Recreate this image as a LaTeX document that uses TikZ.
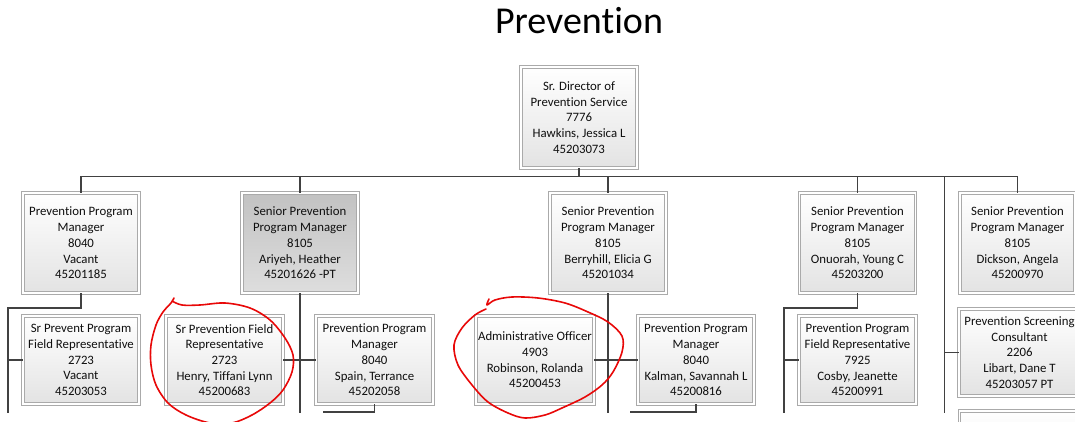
\documentclass[tikz,border=0pt]{standalone}
\usepackage{fontspec}
\setmainfont{Carlito}[Ligatures=CommonOff]
\usepackage{tikz}
\usetikzlibrary{shadows,positioning}
\definecolor{boxline}{RGB}{170,170,170}
\definecolor{wire}{RGB}{65,65,65}
\definecolor{ink}{RGB}{15,15,15}
\definecolor{pen}{RGB}{232,8,8}

\begin{document}
\begin{tikzpicture}[x=1pt,y=-1pt,
    post/.style={draw=boxline,line width=0.7pt,double=white,double distance=1.8pt,
      top color=white,bottom color=black!11,text=ink,align=center,
      inner sep=1pt,minimum width=116,
      font=\fontsize{12.8}{15.7}\selectfont,
      drop shadow={shadow xshift=1.8pt,shadow yshift=-1.8pt,opacity=0.3,fill=black!60}},
    head/.style={post,minimum height=100},
    staff/.style={post,minimum height=88},
    shaded/.style={top color=black!24,bottom color=black!13},
    conn/.style={wire,line width=1.6pt},
    ring/.style={pen,line width=1.6pt,line cap=round,line join=round}]
  \useasboundingbox (0,0) rectangle (1075,422);
  \clip (0,0) rectangle (1075,422);

  \node[font=\fontsize{38}{40}\selectfont,text=black] (title) at (579,21) {Prevention};

  % ---------------- director ----------------
  \node[post,minimum height=101] (hawkins) at (579,117.5)
      {Sr. Director of\\Prevention Service\\7776\\Hawkins, Jessica L\\45203073};

  % ---------------- managers ----------------
  \node[head] (vacantppm) at (81,243)
      {Prevention Program\\Manager\\8040\\Vacant\\45201185};
  \node[head,shaded] (ariyeh) at (300,243)
      {Senior Prevention\\Program Manager\\8105\\Ariyeh, Heather\\45201626 -PT};
  \node[head] (berryhill) at (608,243)
      {Senior Prevention\\Program Manager\\8105\\Berryhill, Elicia G\\45201034};
  \node[head] (onuorah) at (857.5,243)
      {Senior Prevention\\Program Manager\\8105\\Onuorah, Young C\\45203200};
  \node[head,minimum width=115] (dickson) at (1017.5,243)
      {Senior Prevention\\Program Manager\\8105\\Dickson, Angela\\45200970};

  % ---------------- staff ----------------
  \node[staff] (vacantfr) at (81,360)
      {Sr Prevent Program\\Field Representative\\2723\\Vacant\\45203053};
  \node[staff,minimum width=117] (henry) at (224.5,360)
      {Sr Prevention Field\\Representative\\2723\\Henry, Tiffani Lynn\\45200683};
  \node[staff,minimum width=117] (spain) at (374.5,360)
      {Prevention Program\\Manager\\8040\\Spain, Terrance\\45202058};
  \node[staff,minimum width=118] (robinson) at (535,360)
      {Administrative Officer\\4903\\Robinson, Rolanda\\45200453};
  \node[staff] (kalman) at (696,360)
      {Prevention Program\\Manager\\8040\\Kalman, Savannah L\\45200816};
  \node[staff,minimum width=117] (cosby) at (857.5,360)
      {Prevention Program\\Field Representative\\7925\\Cosby, Jeanette\\45200991};
  \node[staff,minimum width=121,minimum height=87] (libart) at (1019.5,352.5)
      {Prevention Screening\\Consultant\\2206\\Libart, Dane T\\45203057 PT};
  \node[staff,minimum width=121] (nextE) at (1020,455) {};

  % ---------------- wiring ----------------
  \coordinate (bus) at (0,176.5);
  \coordinate (bottom) at (0,413);
  \coordinate (sidebar) at (944.5,0);
  \coordinate (railA) at (8,308);
  \coordinate (railD) at (784,308);
  \coordinate (spainstub) at (323,412);
  \coordinate (kalmanstub) at (630,412);
  \draw[conn] (hawkins.south) -- (hawkins.south |- bus);
  \draw[conn] (vacantppm.north) -- (vacantppm.north |- bus)
      -- (dickson.north |- bus) -- (dickson.north);
  \foreach \boss in {ariyeh,berryhill,onuorah}
    \draw[conn] (\boss.north |- bus) -- (\boss.north);
  \draw[conn] (sidebar |- bus) -- (sidebar |- bottom);
  % column A
  \draw[conn] (vacantppm.south) |- (railA) -- (railA |- bottom);
  \draw[conn] (railA |- vacantfr) -- (vacantfr.west);
  % column B
  \draw[conn] (ariyeh.south) -- (ariyeh.south |- bottom);
  \draw[conn] (henry.east) -- (henry.east -| ariyeh.south);
  \draw[conn] (spain.west) -- (spain.west -| ariyeh.south);
  \draw[conn] (spain.south) |- (spainstub);
  % column C
  \draw[conn] (berryhill.south) -- (berryhill.south |- bottom);
  \draw[conn] (robinson.east) -- (robinson.east -| berryhill.south);
  \draw[conn] (kalman.west) -- (kalman.west -| berryhill.south);
  \draw[conn] (kalman.south) |- (kalmanstub);
  % column D
  \draw[conn] (onuorah.south) |- (railD) -- (railD |- bottom);
  \draw[conn] (railD |- cosby) -- (cosby.west);
  % column E
  \draw[conn] (sidebar |- libart) -- (libart.west);

  % ---------------- hand-drawn rings ----------------
  \draw[ring] plot[smooth,tension=0.55] coordinates {
      (174,298) (171,303) (163,312) (156,325) (151,345) (151,365) (156,385)
      (168,403) (186,415) (210,423) (232,423) (252,415) (270,403) (283,390)
      (292,372) (293,355) (285,338) (270,320) (250,308) (225,303) (200,305)
      (182,305) (172,301)};
  \draw[ring] plot[smooth,tension=0.55] coordinates {
      (489,299) (487,305) (495,300) (512,297) (538,298) (565,303) (588,312)
      (608,322) (622,336) (622,352) (613,372) (602,385) (585,397) (562,408)
      (545,415) (525,418) (508,413) (488,402) (472,385) (458,365) (454,345)
      (462,328) (475,315) (486,309)};
\end{tikzpicture}
\end{document}
